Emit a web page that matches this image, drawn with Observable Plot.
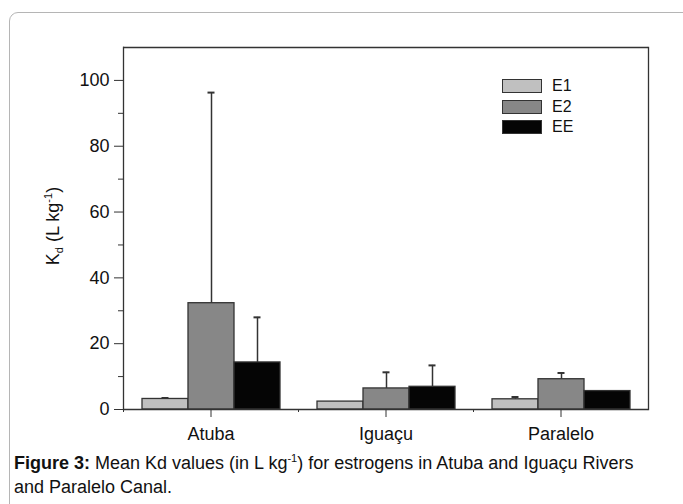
<!DOCTYPE html>
<html>
<head>
<meta charset="utf-8">
<script src="https://cdn.jsdelivr.net/npm/d3@7"></script>
<script src="https://cdn.jsdelivr.net/npm/@observablehq/plot@0.6"></script>
<style>
  html, body { margin: 0; padding: 0; background: #fff; }
  body { width: 683px; height: 504px; overflow: hidden; position: relative; font-family: "Liberation Sans", Arial, sans-serif; }
  #box { position: absolute; left: 9px; top: 12px; width: 740px; height: 560px; border: 1px solid #b5b5b5; border-radius: 9px; }
  #chart { position: absolute; left: 0; top: 0; }
  #legend { position: absolute; left: 502px; top: 76px; font-size: 16px; color: #111; }
  #legend .row { display: flex; align-items: center; height: 20.5px; }
  #legend .sw { width: 38px; height: 12px; border: 1.5px solid #333; box-sizing: content-box; }
  #legend .lab { margin-left: 10px; }
  #caption { position: absolute; left: 14px; top: 451px; width: 645px; font-size: 18px; line-height: 24px; color: #111; }
  #caption sup { font-size: 11px; line-height: 0; }
</style>
</head>
<body>
<div id="box"></div>
<div id="chart"></div>
<div id="legend"></div>
<div id="caption"><b>Figure 3:</b> Mean Kd values (in L kg<sup>-1</sup>) for estrogens in Atuba and Iguaçu Rivers and Paralelo Canal.</div>
<script>
const sites = ["Atuba", "Iguaçu", "Paralelo"];
const series = ["E1", "E2", "EE"];
const colors = ["#c0c0c0", "#878787", "#050505"];
const valE1 = [3.2, 2.4, 3.1];
const errE1 = [0.3, 0, 0.7];
const valE2 = [32.3, 6.4, 9.2];
const errE2 = [64.0, 4.9, 1.9];
const valEE = [14.3, 6.9, 5.6];
const errEE = [13.7, 6.5, 0];
const yMajor = [0, 20, 40, 60, 80, 100];
const yMinor = [10, 30, 50, 70, 90];

const vals = [valE1, valE2, valEE];
const errs = [errE1, errE2, errEE];
const rows = [];
sites.forEach((s, i) => series.forEach((k, j) => rows.push({site: s, series: k, value: vals[j][i], err: errs[j][i]})));
const withErr = rows.filter(d => d.err > 0);

const font = '"Liberation Sans", Arial, sans-serif';
const plot = Plot.plot({
  width: 683,
  height: 450,
  marginLeft: 123,
  marginRight: 35,
  marginTop: 47,
  marginBottom: 41,
  style: {fontFamily: font, color: "#111", background: "transparent"},
  fx: {domain: sites, padding: 0, axis: null},
  x: {domain: series, paddingInner: 0, paddingOuter: 0.375, axis: null},
  y: {domain: [0, 110], axis: null},
  color: {domain: series, range: colors},
  marks: [
    Plot.ruleX(withErr, {fx: "site", x: "series", y1: "value", y2: d => d.value + d.err, stroke: "#333", strokeWidth: 1.5}),
    Plot.tickY(withErr, {fx: "site", x: "series", y: d => d.value + d.err, stroke: "#333", strokeWidth: 2, insetLeft: 19.5, insetRight: 19.5}),
    Plot.barY(rows, {fx: "site", x: "series", y: "value", fill: "series", stroke: "#333", strokeWidth: 1.3}),
    Plot.ruleY([0, 110], {stroke: "#333", strokeWidth: 1.3}),
    Plot.frame({anchor: "left", facetAnchor: "left", stroke: "#333", strokeWidth: 1.3}),
    Plot.frame({anchor: "right", facetAnchor: "right", stroke: "#333", strokeWidth: 1.3}),
    Plot.axisY({ticks: yMajor, tickSize: 9, tickPadding: 5, fontSize: 18, label: null, stroke: "#333"}),
    Plot.axisY({ticks: yMinor, tickSize: 5, tickFormat: () => "", label: null, stroke: "#333"}),
    Plot.axisFx({anchor: "bottom", tickSize: 8, tickPadding: 10, fontSize: 18, label: null, stroke: "#333"}),
    Plot.axisFx({anchor: "bottom", tickSize: 3, tickFormat: () => "", label: null, dx: -87.5, stroke: "#333"})
  ]
});
document.getElementById("chart").appendChild(plot);

// y-axis title with subscript and superscript
const svg = d3.select(plot);
const t = svg.append("text")
  .attr("transform", "translate(59,226) rotate(-90)")
  .attr("text-anchor", "middle")
  .attr("font-size", 18)
  .attr("font-family", font)
  .attr("fill", "#111");
t.append("tspan").text("K");
t.append("tspan").attr("font-size", 11).attr("dy", 4).text("d");
t.append("tspan").attr("dy", -4).text(" (L kg");
t.append("tspan").attr("font-size", 11).attr("dy", -7).text("-1");
t.append("tspan").attr("dy", 7).text(")");

// legend
const lg = d3.select("#legend");
series.forEach((s, i) => {
  const r = lg.append("div").attr("class", "row");
  r.append("div").attr("class", "sw").style("background", colors[i]);
  r.append("span").attr("class", "lab").text(s);
});
</script>
</body>
</html>
